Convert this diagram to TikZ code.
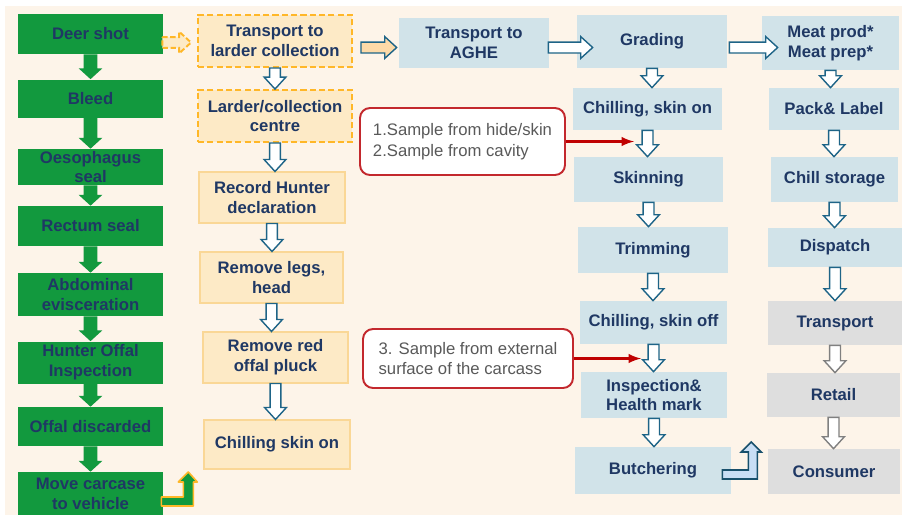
\documentclass[tikz,border=0pt]{standalone}
\usepackage{fontspec}
\setmainfont{Liberation Sans}
\usepackage{tikz}
\usetikzlibrary{arrows,positioning,calc}
\definecolor{fond}{RGB}{253,244,233}
\definecolor{marine}{RGB}{31,56,100}
\definecolor{vert}{RGB}{18,153,62}
\definecolor{orangeclair}{RGB}{253,234,198}
\definecolor{orangebord}{RGB}{250,215,150}
\definecolor{orangevif}{RGB}{255,183,40}
\definecolor{bleuclair}{RGB}{209,227,233}
\definecolor{bleufleche}{RGB}{30,100,135}
\definecolor{bleucoude}{RGB}{200,222,245}
\definecolor{grisclair}{RGB}{222,222,222}
\definecolor{gristexte}{RGB}{89,89,89}
\definecolor{rouge}{RGB}{192,0,0}
\definecolor{rougebord}{RGB}{195,40,45}

\begin{document}
\begin{tikzpicture}[x=0.02cm,y=-0.02cm]
\tikzstyle{boite}=[rectangle,align=center,inner sep=0pt,text=marine,font=\bfseries\fontsize{9.5}{11.3}\selectfont]
\tikzstyle{boiteverte}=[boite,fill=vert,minimum width=2.9cm,minimum height=0.8cm]
\tikzstyle{boitetiretee}=[boite,fill=orangeclair,draw=orangevif,line width=1.1pt,dash pattern=on 3.5pt off 1.8pt,minimum width=3.08cm,minimum height=1.04cm]
\tikzstyle{boiteorange}=[boite,fill=orangeclair,draw=orangebord,line width=0.6pt,minimum width=2.92cm,minimum height=1.02cm]
\tikzstyle{boitebleue}=[boite,fill=bleuclair,minimum width=3cm]
\tikzstyle{boitegrise}=[boite,fill=grisclair,minimum width=2.66cm]
\tikzstyle{bulle}=[rectangle,rounded corners=0.2cm,fill=white,draw=rougebord,line width=1.1pt,align=left,text=gristexte,font=\fontsize{9.5}{11.8}\selectfont]
\tikzstyle{flecheverte}=[fill=vert]
\tikzstyle{flechebleue}=[fill=white,draw=bleufleche,line width=0.8pt]
\tikzstyle{flechegrise}=[fill=white,draw=gray,line width=0.8pt]
\tikzstyle{flecheorange}=[fill=orangeclair!85!orange,draw=bleufleche,line width=0.8pt]
\tikzstyle{flechetiretee}=[fill=orangeclair,draw=orangevif,line width=1.1pt,dash pattern=on 3pt off 1.5pt]
\tikzstyle{flecherouge}=[->,>=latex,draw=rouge,line width=1.4pt]
\tikzstyle{coudeverte}=[fill=vert,draw=orangevif,line width=0.9pt,line join=round]
\tikzstyle{coudebleue}=[fill=bleucoude,draw=bleufleche!80!black,line width=0.9pt]
\def\FlecheBas#1#2#3{\path[#1] let \p1=(#2), \p2=(#3) in
  (\x1-\Tige,\y1) -- (\x1+\Tige,\y1) -- (\x1+\Tige,\y2+\Tete) -- (\x1+\Pointe,\y2+\Tete)
  -- (\x1,\y2) -- (\x1-\Pointe,\y2+\Tete) -- (\x1-\Tige,\y2+\Tete) -- cycle;}
\def\FlecheDroite#1#2#3{\path[#1] let \p1=(#2), \p2=(#3) in
  (\x1,\y1+\Tige) -- (\x2-\Tete,\y1+\Tige) -- (\x2-\Tete,\y1+\Pointe) -- (\x2,\y1)
  -- (\x2-\Tete,\y1-\Pointe) -- (\x2-\Tete,\y1-\Tige) -- (\x1,\y1-\Tige) -- cycle;}
\useasboundingbox (0,0) rectangle (902,515);
\fill[fond] (5,6) rectangle (902,515);
% chasseur
\node[boiteverte] (Va) at (90.5,34) {Deer shot};
\node[boiteverte,minimum height=0.76cm] (Vb) at (90.5,98.5) {Bleed};
\node[boiteverte,minimum height=0.72cm] (Vc) at (90.5,167) {Oesophagus\\seal};
\node[boiteverte] (Vd) at (90.5,226) {Rectum seal};
\node[boiteverte,minimum height=0.86cm] (Ve) at (90.5,294.5) {Abdominal\\evisceration};
\node[boiteverte,minimum height=0.84cm] (Vf) at (90.5,362.5) {Hunter Offal\\Inspection};
\node[boiteverte,minimum height=0.78cm] (Vg) at (90.5,426.5) {Offal discarded};
\node[boiteverte,minimum height=0.86cm] (Vh) at (90.5,493.5) {Move carcase\\to vehicle};
% larder
\node[boitetiretee] (Oa) at (275,41) {Transport to\\larder collection};
\node[boitetiretee] (Ob) at (275,116) {Larder/collection\\centre};
\node[boiteorange] (Oc) at (272,197.5) {Record Hunter\\declaration};
\node[boiteorange,minimum width=2.86cm] (Od) at (271.5,277.5) {Remove legs,\\head};
\node[boiteorange,minimum width=2.9cm] (Oe) at (275.5,357.5) {Remove red\\offal pluck};
\node[boiteorange,minimum height=0.98cm] (Of) at (277,444.5) {Chilling skin on};
% AGHE
\node[boitebleue,minimum height=1cm] (Ta) at (474,43) {Transport to\\AGHE};
\node[boitebleue,minimum height=1.06cm] (Ba) at (652,41.5) {Grading};
\node[boitebleue,minimum width=2.98cm,minimum height=0.84cm] (Bb) at (647.5,109) {Chilling, skin on};
\node[boitebleue,minimum width=2.98cm,minimum height=0.9cm] (Bc) at (648.5,179.5) {Skinning};
\node[boitebleue,minimum height=0.92cm] (Bd) at (653,250) {Trimming};
\node[boitebleue,minimum width=2.94cm,minimum height=0.86cm] (Be) at (653.5,322.5) {Chilling, skin off};
\node[boitebleue,minimum width=2.92cm,minimum height=0.92cm] (Bf) at (654,395) {Inspection\&\\Health mark};
\node[boitebleue,minimum width=3.12cm,minimum height=0.94cm] (Bg) at (653,470.5) {Butchering};
% produits
\node[boitebleue,minimum width=2.74cm,minimum height=1.08cm] (Ca) at (830.5,43) {Meat prod*\\Meat prep*};
\node[boitebleue,minimum width=2.6cm,minimum height=0.84cm] (Cb) at (834,109) {Pack\& Label};
\node[boitebleue,minimum width=2.54cm,minimum height=0.9cm] (Cc) at (834.5,179.5) {Chill storage};
\node[boitebleue,minimum width=2.68cm,minimum height=0.78cm] (Cd) at (835,247.5) {Dispatch};
\node[boitegrise,minimum width=2.68cm,minimum height=0.88cm] (Ce) at (835,323) {Transport};
\node[boitegrise,minimum height=0.88cm] (Cf) at (833.5,395) {Retail};
\node[boitegrise,minimum width=2.64cm,minimum height=0.9cm] (Cg) at (834,471.5) {Consumer};
% prelevements
\node[bulle,minimum width=4.1cm,minimum height=1.34cm] (Ea) at (462.5,141.5) {1.Sample from hide/skin\\2.Sample from cavity};
\node[bulle,minimum width=4.2cm,minimum height=1.18cm] (Eb) at (468,358.5) {3. Sample from external\\surface of the carcass};
\coordinate (Pa) at (634,141.5);
\coordinate (Pb) at (641,358.5);
\draw[flecherouge] (Ea.east) -- (Pa);
\draw[flecherouge] (Eb.east) -- (Pb);
% fleches vertes
\def\Tige{3.95pt}\def\Pointe{6.8pt}\def\Tete{6.2pt}
\FlecheBas{flecheverte}{Va.south}{Vb.north}
\FlecheBas{flecheverte}{Vb.south}{Vc.north}
\FlecheBas{flecheverte}{Vc.south}{Vd.north}
\FlecheBas{flecheverte}{Vd.south}{Ve.north}
\FlecheBas{flecheverte}{Ve.south}{Vf.north}
\FlecheBas{flecheverte}{Vf.south}{Vg.north}
\FlecheBas{flecheverte}{Vg.south}{Vh.north}
% fleches creuses
\def\Tige{3.1pt}\def\Pointe{6.2pt}\def\Tete{6.8pt}
\FlecheBas{flechebleue}{Oa.south}{Ob.north}
\FlecheBas{flechebleue}{Ob.south}{Oc.north}
\FlecheBas{flechebleue}{Oc.south}{Od.north}
\FlecheBas{flechebleue}{Od.south}{Oe.north}
\FlecheBas{flechebleue}{Oe.south}{Of.north}
\FlecheBas{flechebleue}{Ba.south}{Bb.north}
\FlecheBas{flechebleue}{Bb.south}{Bc.north}
\FlecheBas{flechebleue}{Bc.south}{Bd.north}
\FlecheBas{flechebleue}{Bd.south}{Be.north}
\FlecheBas{flechebleue}{Be.south}{Bf.north}
\FlecheBas{flechebleue}{Bf.south}{Bg.north}
\FlecheBas{flechebleue}{Ca.south}{Cb.north}
\FlecheBas{flechebleue}{Cb.south}{Cc.north}
\FlecheBas{flechebleue}{Cc.south}{Cd.north}
\FlecheBas{flechebleue}{Cd.south}{Ce.north}
\FlecheBas{flechegrise}{Ce.south}{Cf.north}
\FlecheBas{flechegrise}{Cf.south}{Cg.north}
\FlecheDroite{flechetiretee}{$(Va.east)+(-1,8.5)$}{$(Oa.west)+(-6,0)$}
\FlecheDroite{flecheorange}{$(Oa.east)+(8,6.5)$}{$(Ta.west)+(-2,0)$}
\FlecheDroite{flechebleue}{$(Ta.east)+(-1,4.5)$}{$(Ba.west)+(16,0)$}
\FlecheDroite{flechebleue}{$(Ba.east)+(2,6)$}{$(Ca.west)+(16,0)$}
% coudes
\path[coudeverte] ([shift={(-2,3.5)}]Vh.east) -- ++(22,0) -- ++(0,-15) -- ++(-5,0) -- ++(10,-10)
  -- ++(9,10) -- ++(-4,0) -- ++(0,24) -- ++(-32,0) -- cycle;
\path[coudebleue] ([shift={(-9,-0.5)}]Bg.east) -- ++(26,0) -- ++(0,-18) -- ++(-7,0) -- ++(10,-10)
  -- ++(10,10) -- ++(-4,0) -- ++(0,27) -- ++(-35,0) -- cycle;
\end{tikzpicture}
\end{document}
